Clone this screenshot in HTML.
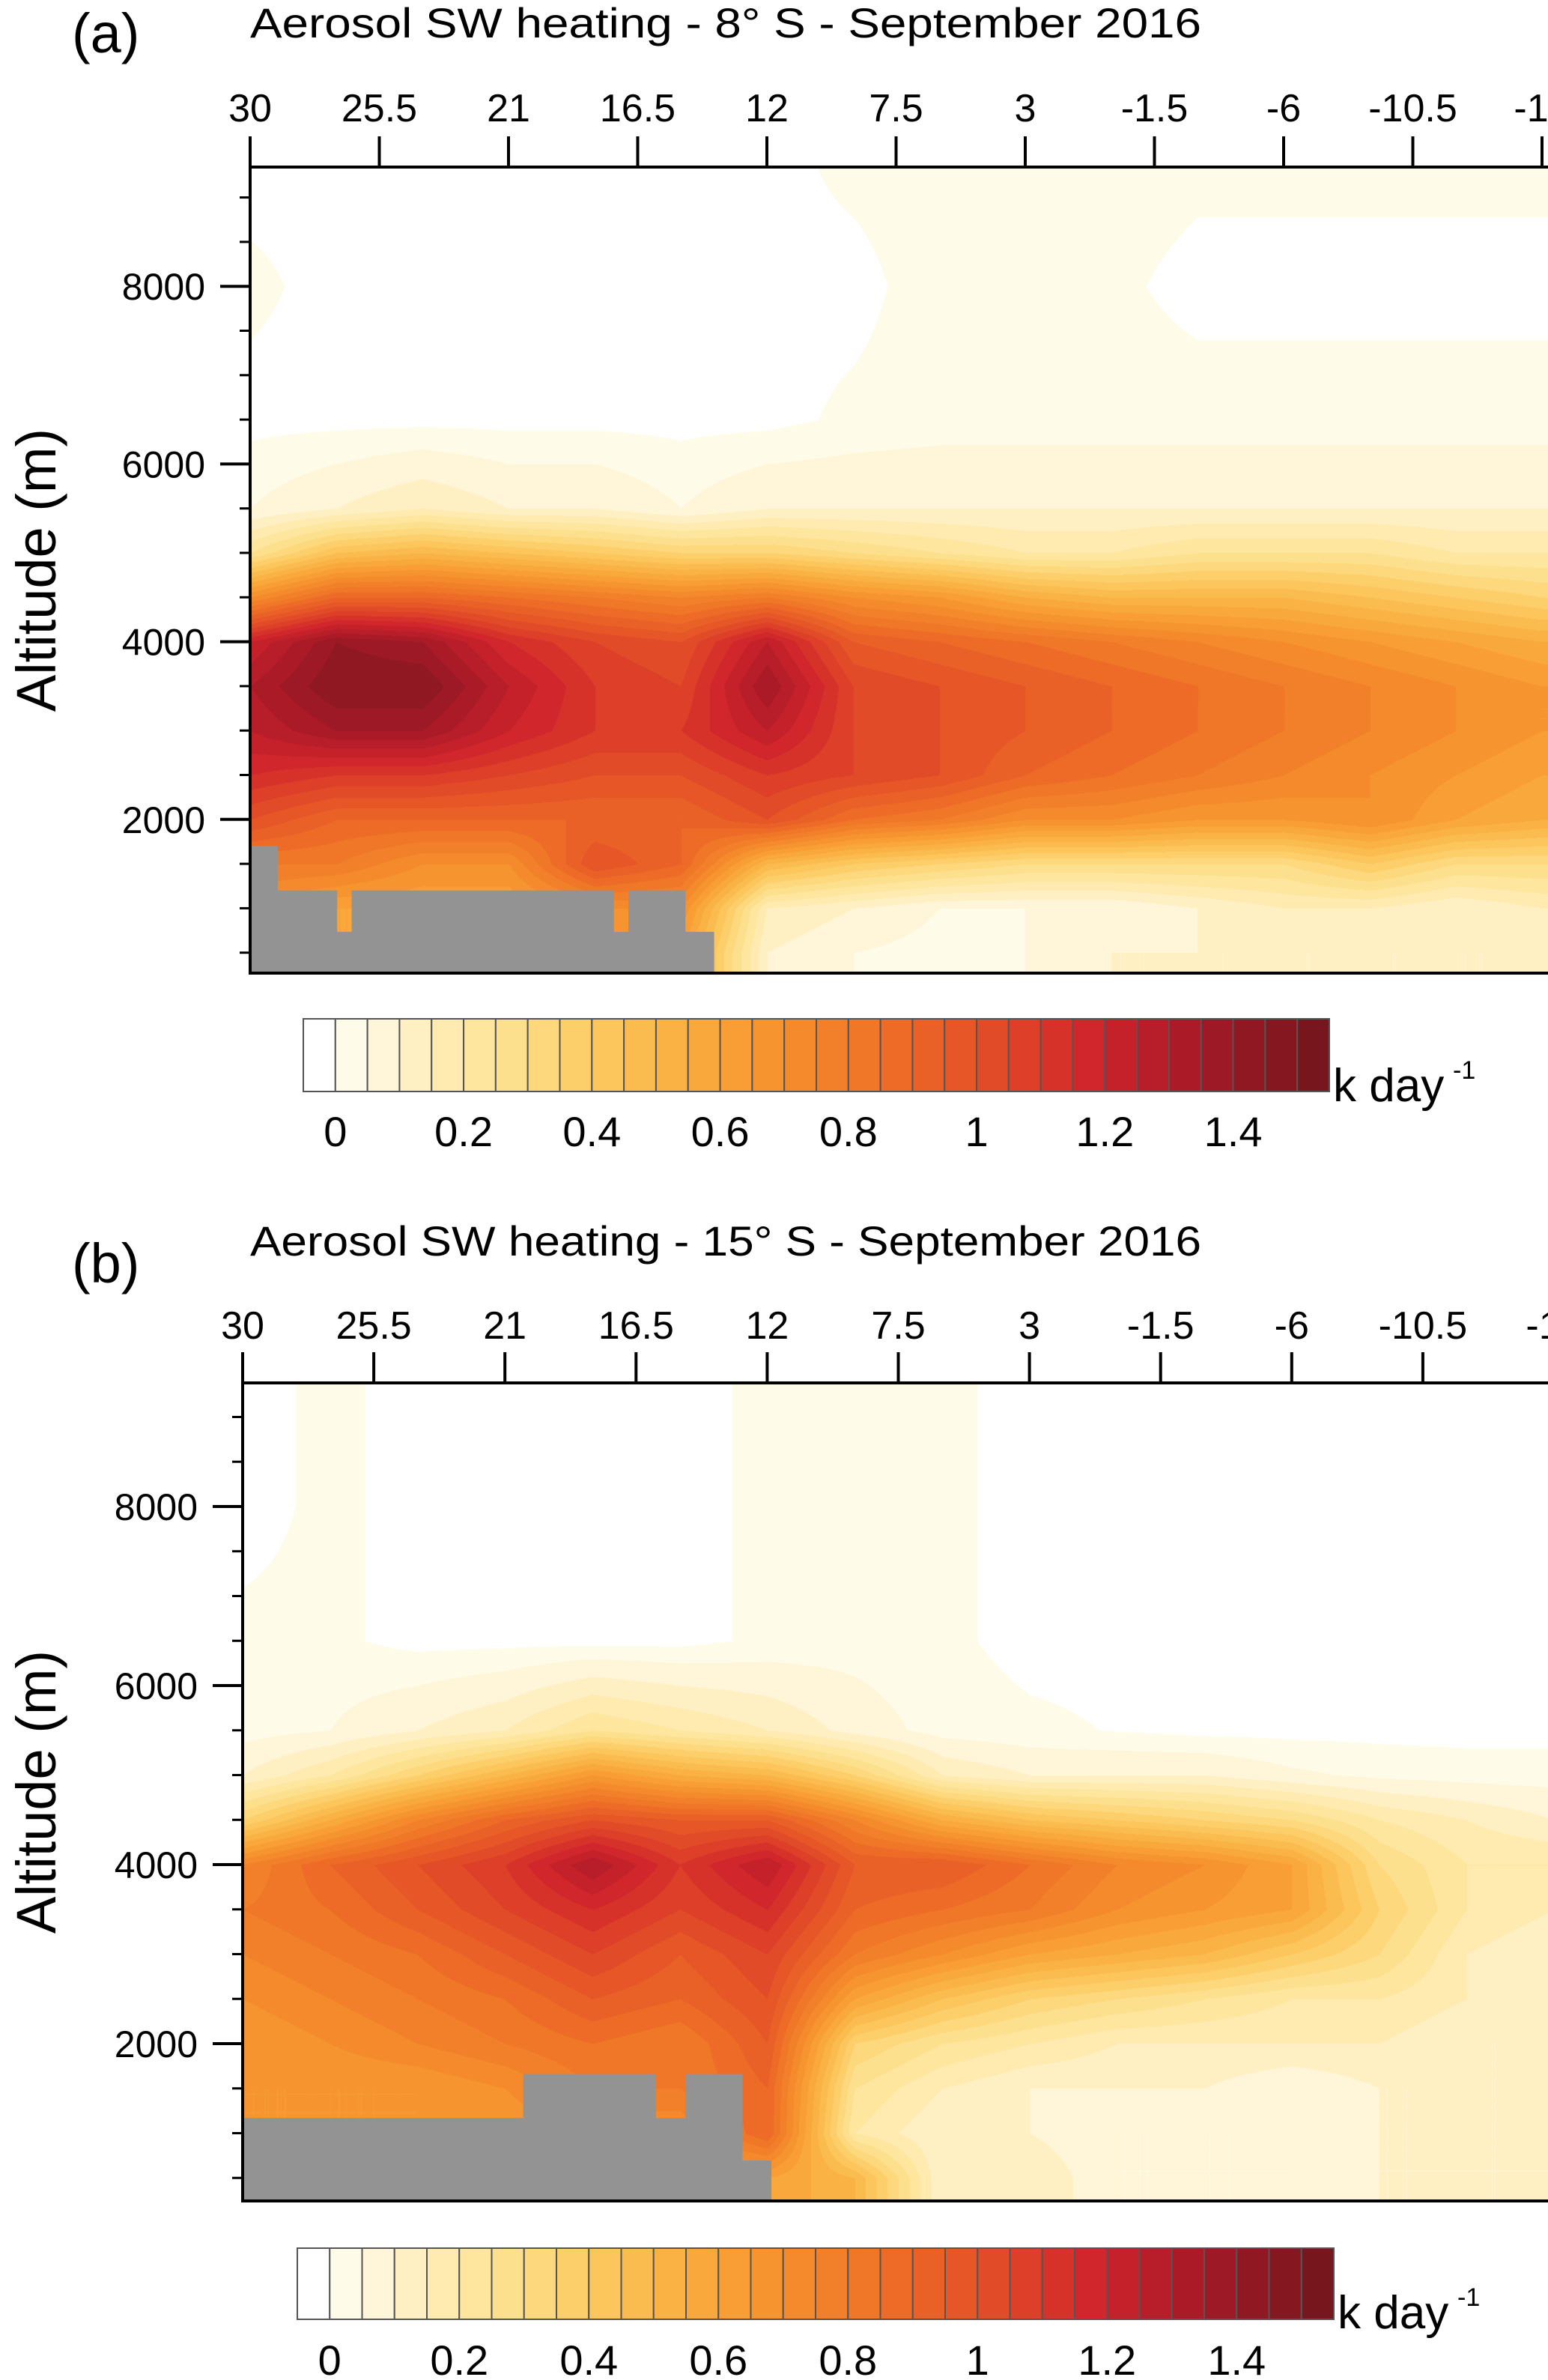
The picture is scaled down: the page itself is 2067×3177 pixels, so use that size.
<!DOCTYPE html>
<html><head><meta charset="utf-8">
<style>
html,body{margin:0;padding:0;background:#fff;}
#wrap{position:relative;width:2067px;height:3177px;overflow:hidden;background:#fff;}
canvas{position:absolute;}
svg{position:absolute;left:0;top:0;}
text{font-family:"Liberation Sans",Arial,sans-serif;fill:#000;}
</style></head>
<body>
<div id="wrap">
<canvas id="ca"></canvas>
<canvas id="cb"></canvas>
<svg id="svg" width="2067" height="3177"></svg>
</div>
<script>
// ---- data ----
const lons = [30,27,24,21,18,15,12,9,6,3,0,-3,-6,-9,-12,-15];
const alts = [500,1000,1500,2000,2500,3000,3500,4000,4500,5000,5500,6500,8000,9300];
const heatA = [
[0.6,0.6,0.6,0.6,0.6,0.6,0.1,0.05,0.03,0.05,0.1,0.1,0.1,0.1,0.1,0.1],
[0.7,0.6,0.6,0.6,0.7,0.7,0.15,0.1,0.05,0.05,0.05,0.1,0.15,0.15,0.1,0.15],
[0.8,0.8,0.7,0.7,1.0,0.9,0.5,0.4,0.35,0.3,0.3,0.3,0.3,0.4,0.3,0.3],
[1.0,0.9,0.9,0.9,0.9,0.9,1.0,0.85,0.8,0.7,0.7,0.65,0.65,0.7,0.6,0.55],
[1.15,1.1,1.1,1.05,1.0,1.0,1.1,1.05,1.0,0.9,0.85,0.8,0.75,0.7,0.65,0.6],
[1.25,1.35,1.35,1.2,1.1,1.1,1.25,1.05,1.0,0.95,0.9,0.85,0.8,0.75,0.7,0.65],
[1.3,1.45,1.45,1.25,1.1,1.05,1.35,1.05,1.0,0.95,0.9,0.85,0.8,0.75,0.7,0.65],
[1.2,1.4,1.35,1.15,1.05,1.0,1.25,0.95,0.9,0.85,0.8,0.75,0.7,0.65,0.6,0.55],
[0.7,0.9,0.9,0.85,0.8,0.75,0.8,0.7,0.65,0.55,0.5,0.5,0.5,0.45,0.4,0.35],
[0.25,0.45,0.5,0.45,0.4,0.35,0.35,0.3,0.25,0.2,0.2,0.25,0.25,0.25,0.2,0.2],
[0.05,0.1,0.15,0.1,0.1,0.05,0.1,0.1,0.1,0.1,0.1,0.1,0.1,0.1,0.1,0.1],
[0,0,0,0,0,0,0,0.02,0.03,0.03,0.03,0.03,0.03,0.03,0.03,0.03],
[0.02,0,0,0,0,0,0,0,0.03,0.03,0.02,0,0,0,0,0],
[0,0,0,0,0,0,0,0.02,0.03,0.03,0.03,0.02,0.02,0.02,0.02,0.02]
];
const heatB = [
[0.6,0.6,0.6,0.6,0.6,0.6,0.6,0.5,0.1,0.15,0.05,0.05,0.05,0.1,0.1,0.1],
[0.65,0.65,0.65,0.65,0.7,0.7,0.9,0.2,0.1,0.1,0.05,0.05,0.05,0.1,0.1,0.1],
[0.65,0.65,0.65,0.7,0.8,0.8,0.9,0.25,0.15,0.1,0.1,0.1,0.05,0.1,0.1,0.1],
[0.65,0.7,0.75,0.8,0.85,0.8,0.95,0.35,0.25,0.2,0.15,0.15,0.15,0.15,0.1,0.1],
[0.7,0.75,0.8,0.85,0.95,0.9,1.0,0.6,0.45,0.35,0.3,0.25,0.2,0.2,0.15,0.1],
[0.75,0.8,0.85,0.95,1.05,0.95,1.05,0.8,0.7,0.6,0.55,0.5,0.4,0.3,0.15,0.1],
[0.8,0.85,0.95,1.05,1.15,1.05,1.15,0.9,0.85,0.8,0.7,0.65,0.6,0.35,0.2,0.15],
[0.75,0.9,1.0,1.1,1.3,1.1,1.25,0.95,0.95,0.85,0.75,0.7,0.6,0.3,0.2,0.2],
[0.35,0.55,0.75,0.9,1.0,0.95,0.95,0.75,0.55,0.45,0.4,0.35,0.3,0.2,0.15,0.1],
[0.1,0.2,0.35,0.5,0.65,0.55,0.5,0.35,0.15,0.1,0.1,0.1,0.06,0.04,0.03,0.03],
[0.03,0.05,0.1,0.15,0.25,0.2,0.15,0.08,0.03,0.02,0.01,0,0,0,0,0],
[0.02,0.02,0,0,0,0,0.02,0.03,0.02,0,0,0,0,0,0,0],
[0,0.02,0,0,0,0,0.02,0.03,0.02,0,0,0,0,0,0,0],
[0,0.02,0,0,0,0,0.02,0.02,0.02,0,0,0,0,0,0,0]
];
const terrainLonA = [30,29.05,26.98,26.45,17.34,16.81,14.85,13.85];
const terrainAltA = [1700,1200,735,1200,735,1200,735];
const terrainLonB = [30,20.36,15.83,14.79,12.86,11.87];
const terrainAltB = [1170,1660,1170,1660,695];
const xTickVals = [30,25.5,21,16.5,12,7.5,3,-1.5,-6,-10.5,-15];
const xTickLabels = ["30","25.5","21","16.5","12","7.5","3","-1.5","-6","-10.5","-15"];
const yTickVals = [2000,4000,6000,8000];
const cbLabels = ["0","0.2","0.4","0.6","0.8","1","1.2","1.4"];
const palette = ["#ffffff","#fffbe9","#fff5d8","#fff0c4","#ffebb0","#fee69f","#fde08e","#fdd87c","#fdcf6b","#fcc65c","#fbbc4f","#fab244","#f9a83b","#f89e35","#f6942f","#f48a2c","#f2802a","#f07628","#ed6b27","#ea6127","#e65627","#e24b27","#dd3f28","#d7322a","#d0262c","#c4212b","#b81e29","#aa1b27","#9d1925","#901823","#841720","#78161e"];

const panels = [
 {id:"a",canvas:"ca",heat:heatA,tLon:terrainLonA,tAlt:terrainAltA,left:334,right:2067,top:223,bottom:1299,y0:1331,ppk:118.6,xRightLon:-15,xRightPx:2059,
  title:"Aerosol SW  heating - 8°  S - September 2016",titleY:50,labelY:70,tickLabY:162,tickTop:182,cb:{x0:405,x1:1775,y0:1360,y1:1457,labY:1530,unitX:1780,unitY:1470}},
 {id:"b",canvas:"cb",heat:heatB,tLon:terrainLonB,tAlt:terrainAltB,left:324,right:2067,top:1846,bottom:2938,y0:2967,ppk:119.5,xRightLon:-15,xRightPx:2075,
  title:"Aerosol SW  heating -  15°  S - September 2016",titleY:1676,labelY:1712,tickLabY:1787,tickTop:1805,cb:{x0:397,x1:1781,y0:3001,y1:3096,labY:3170,unitX:1786,unitY:3108}}
];

const NS="http://www.w3.org/2000/svg";
const svg=document.getElementById('svg');
function mk(tag,attrs,parent){const e=document.createElementNS(NS,tag);for(const k in attrs)e.setAttribute(k,attrs[k]);(parent||svg).appendChild(e);return e;}
function colorIdx(v){if(v<=0.012)return 0;let i=Math.floor(v/0.05)+1;return Math.max(1,Math.min(31,i));}
function hex(h){return [parseInt(h.substr(1,2),16),parseInt(h.substr(3,2),16),parseInt(h.substr(5,2),16)];}
const palRGB=palette.map(hex);

function sample(heat,lon,alt){
  let i=0;while(i<lons.length-2&&lon<lons[i+1])i++;
  let fx=(lons[i]-lon)/(lons[i]-lons[i+1]);fx=Math.max(0,Math.min(1,fx));
  let j=0;while(j<alts.length-2&&alt>alts[j+1])j++;
  let fy=(alt-alts[j])/(alts[j+1]-alts[j]);fy=Math.max(0,Math.min(1,fy));
  const a=heat[j][i],b=heat[j][i+1],c=heat[j+1][i],d=heat[j+1][i+1];
  return (a*(1-fx)+b*fx)*(1-fy)+(c*(1-fx)+d*fx)*fy;
}

panels.forEach(p=>{
  const xS=lon=>p.left+(30-lon)/(30-p.xRightLon)*(p.xRightPx-p.left);
  const yS=alt=>p.y0-alt/1000*p.ppk;
  const xInv=px=>30-(px-p.left)/(p.xRightPx-p.left)*(30-p.xRightLon);
  const yInv=py=>(p.y0-py)/p.ppk*1000;
  const cv=document.getElementById(p.canvas);
  const W=p.right-p.left,H=p.bottom-p.top;
  cv.width=W;cv.height=H;cv.style.left=p.left+'px';cv.style.top=p.top+'px';
  const ctx=cv.getContext('2d');const img=ctx.createImageData(W,H);
  for(let y=0;y<H;y++){const alt=yInv(p.top+y);
    for(let x=0;x<W;x++){const lon=xInv(p.left+x);
      const v=sample(p.heat,lon,alt);const c=palRGB[colorIdx(v)];const o=(y*W+x)*4;
      img.data[o]=c[0];img.data[o+1]=c[1];img.data[o+2]=c[2];img.data[o+3]=255;}}
  ctx.putImageData(img,0,0);
  const g=mk('g',{});
  
  
  for(let k=0;k<p.tAlt.length;k++){
    const x1=xS(p.tLon[k]),x2=xS(p.tLon[k+1]),yt=yS(p.tAlt[k]);
    mk('rect',{x:x1-0.5,y:yt,width:x2-x1+1,height:p.bottom-yt,fill:'#939393'},g);
  }
  const fr=mk('rect',{x:p.left,y:p.top,width:p.right-p.left+10,height:p.bottom-p.top,fill:'none',stroke:'#000','stroke-width':4});
  
  
  xTickVals.forEach((v,k)=>{
    const x=xS(v);
    mk('line',{x1:x,x2:x,y1:p.tickTop,y2:p.top,stroke:'#000','stroke-width':4});
    const t=mk('text',{x:x,y:p.tickLabY,'font-size':52,'text-anchor':'middle'});
    t.textContent=xTickLabels[k];
    
    
  });
  for(let a=500;a<=9000;a+=500){
    const y=yS(a);if(y<p.top||y>p.bottom)continue;
    const major=yTickVals.indexOf(a)>=0;
    mk('line',{x1:p.left-(major?40:14),x2:p.left,y1:y,y2:y,stroke:'#000','stroke-width':major?4:3});
  }
  yTickVals.forEach(v=>{
    const t=mk('text',{x:p.left-60,y:yS(v)+18,'font-size':50,'text-anchor':'end'});
    t.textContent=String(v);
    
    
  });
  const cy=(p.top+p.bottom)/2;
  const yt=mk('text',{x:0,y:0,'font-size':74,'text-anchor':'middle',transform:`translate(74,${cy}) rotate(-90)`});
  yt.textContent='Altitude (m)';
  
  
  const tt=mk('text',{x:334,y:p.titleY,'font-size':56,textLength:1270,lengthAdjust:'spacingAndGlyphs'});
  tt.textContent=p.title;
  
  
  const pl=mk('text',{x:96,y:p.labelY,'font-size':74});
  pl.textContent='('+p.id+')';
  
  
  const cb=p.cb,n=palette.length,bw=(cb.x1-cb.x0)/n;
  const cg=mk('g',{});
  
  
  palette.forEach((c,k)=>{
    mk('rect',{x:cb.x0+k*bw,y:cb.y0,width:bw,height:cb.y1-cb.y0,fill:c,stroke:'#555','stroke-width':2},cg);
  });
  cbLabels.forEach((l,k)=>{
    const t=mk('text',{x:cb.x0+bw*(1+4*k),y:cb.labY,'font-size':56,'text-anchor':'middle'});
    t.textContent=l;
    
    
  });
  const u=mk('text',{x:cb.unitX,y:cb.unitY,'font-size':62});
  u.textContent='k day';
  
  
  const s=mk('text',{x:cb.unitX+160,y:cb.unitY-30,'font-size':34});
  s.textContent='-1';
  
  
});
</script>
</body></html>
